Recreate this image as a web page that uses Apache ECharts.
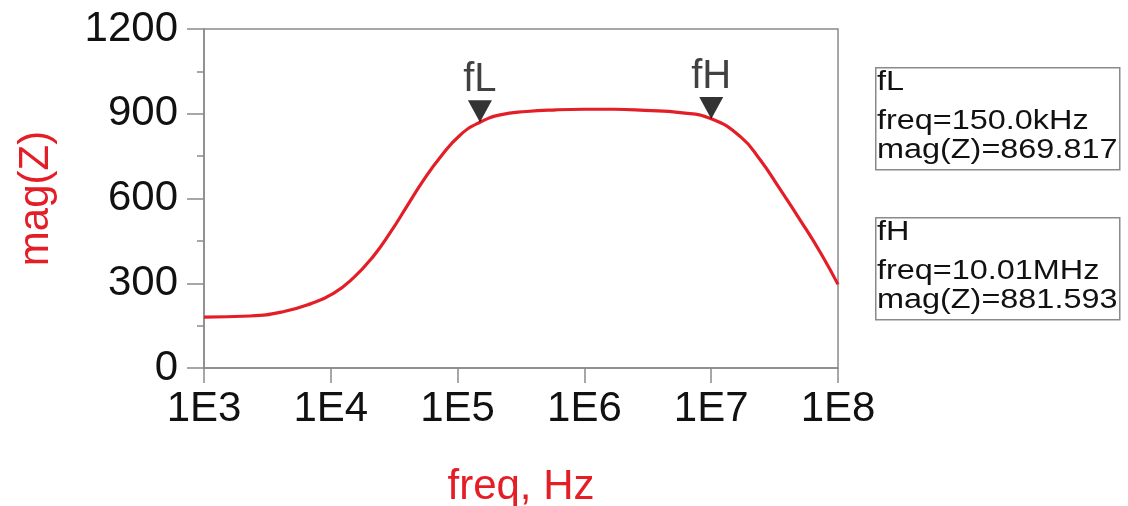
<!DOCTYPE html>
<html>
<head>
<meta charset="utf-8">
<script src="https://cdn.jsdelivr.net/npm/echarts@6/dist/echarts.min.js"></script>
<style>
html,body{margin:0;padding:0;background:#fff;}
#chart{width:1128px;height:506px;}
</style>
</head>
<body>
<div id="chart"></div>
<script>
// frequency (Hz) and |Z|
const freqs = [1e3, 2.3e3, 4.2e3, 6.9e3, 1.05e4, 1.5e4, 2.17e4, 2.94e4, 3.98e4, 5.37e4, 7.3e4, 1.05e5, 1.5e5, 2.17e5, 3.5e5, 6e5, 1e6, 1.7e6, 3e6, 5.7e6, 1e7, 1.7e7, 2.44e7, 3.5e7, 5.06e7, 7.28e7, 1e8];
const magZ  = [180, 184, 199, 227, 264, 318, 396, 479, 572, 664, 746, 825, 870, 896, 908, 914, 916, 916, 912, 904, 882, 819, 736, 632, 522, 408, 296];

const markerNames = ['fL', 'fH'];
const markerFreqs = [150.0e3, 10.01e6];
const markerMags  = [869.817, 881.593];
const markerFreqText = ['150.0kHz', '10.01MHz'];

const yTicks = [0, 300, 600, 900, 1200];
const xTickExps = [3, 4, 5, 6, 7, 8];

const RED = '#e41e26';
const GREY = '#8a8a8a';
const FONT = '"Liberation Sans", Arial, sans-serif';

const chart = echarts.init(document.getElementById('chart'), null, {renderer: 'canvas'});

const lineData = freqs.map((f, i) => [f, magZ[i]]);
const markData = markerNames.map((n, i) => ({name: n, value: [markerFreqs[i], markerMags[i]]}));

// readout boxes
const graphics = [];
const boxTops = [67, 217];
markerNames.forEach((n, i) => {
  const top = boxTops[i];
  graphics.push({
    type: 'rect', left: 875, top: top, z: 10,
    shape: {width: 244, height: 102},
    style: {fill: '#fff', stroke: GREY, lineWidth: 1.5}
  });
  const lines = [n, 'freq=' + markerFreqText[i], 'mag(Z)=' + markerMags[i].toFixed(3)];
  const ys = [top + 16, top + 55, top + 84];
  lines.forEach((t, k) => {
    graphics.push({
      type: 'text', x: 877, y: ys[k], z: 11, scaleX: 1.2,
      style: {text: t, fill: '#111', font: '27px ' + FONT, textVerticalAlign: 'middle', textAlign: 'left'}
    });
  });
});

chart.setOption({
  backgroundColor: '#fff',
  animation: false,
  grid: {left: 204, right: 290, top: 29, bottom: 138, containLabel: false, outerBoundsMode: 'none',
         show: true, borderColor: GREY, borderWidth: 1.5, backgroundColor: 'transparent'},
  xAxis: {
    type: 'log', logBase: 10, min: 1e3, max: 1e8,
    name: 'freq, Hz', nameLocation: 'middle', nameGap: 98,
    nameTextStyle: {color: RED, fontSize: 42, fontFamily: FONT},
    axisLine: {show: true, lineStyle: {color: GREY, width: 1.5}},
    axisTick: {show: true, length: 15, lineStyle: {color: GREY, width: 1.5}},
    minorTick: {show: false},
    splitLine: {show: false},
    axisLabel: {
      fontSize: 42, fontFamily: FONT, color: '#111', margin: 20,
      formatter: v => '1E' + xTickExps[Math.round(Math.log10(v)) - xTickExps[0]]
    }
  },
  yAxis: {
    type: 'value', min: 0, max: 1200, interval: 300,
    name: 'mag(Z)', nameLocation: 'middle', nameGap: 147, nameRotate: 90,
    nameTextStyle: {color: RED, fontSize: 42, fontFamily: FONT},
    axisLine: {show: true, lineStyle: {color: GREY, width: 1.5}},
    axisTick: {show: true, length: 17, lineStyle: {color: GREY, width: 1.5}},
    minorTick: {show: true, splitNumber: 2, length: 7, lineStyle: {color: GREY, width: 1.5}},
    splitLine: {show: false},
    minorSplitLine: {show: false},
    axisLabel: {fontSize: 42, fontFamily: FONT, color: '#111', margin: 26, formatter: v => String(v)}
  },
  graphic: graphics,
  series: [
    {
      type: 'line', data: lineData, smooth: 0.5, showSymbol: false,
      lineStyle: {color: RED, width: 3.2}, itemStyle: {color: RED}, z: 3
    },
    {
      type: 'scatter', data: markData,
      symbol: 'triangle', symbolRotate: 180, symbolSize: [24, 22], symbolOffset: [0, '-50%'],
      itemStyle: {color: '#000'}, z: 5,
      label: {show: true, position: 'top', distance: 0, formatter: p => p.name, fontSize: 40, fontFamily: FONT, color: '#111'}
    }
  ]
});
</script>
</body>
</html>
